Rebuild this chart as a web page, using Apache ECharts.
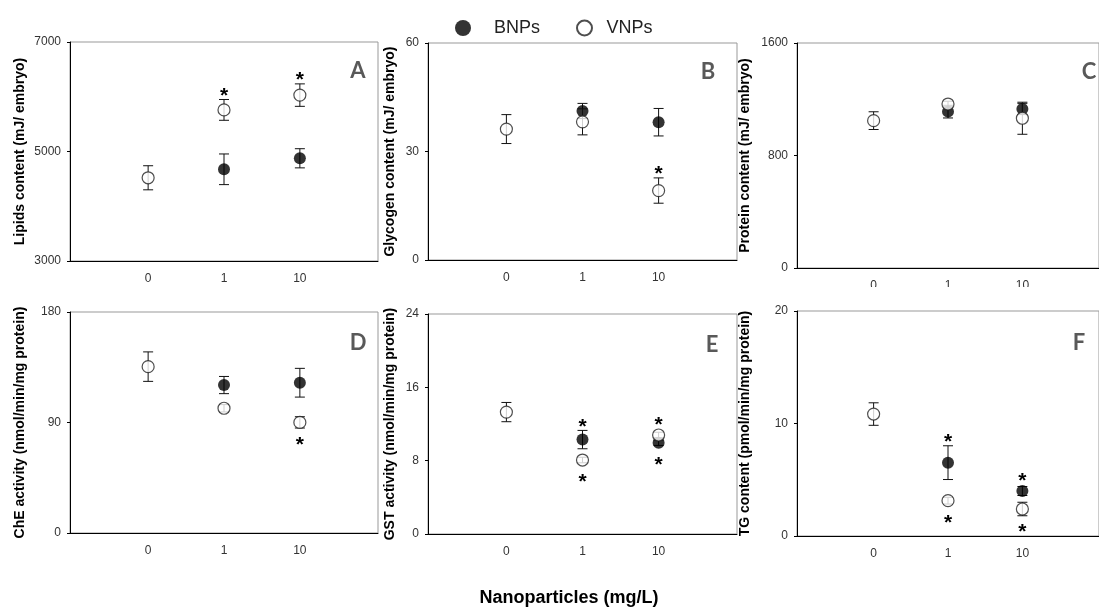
<!DOCTYPE html>
<html><head><meta charset="utf-8">
<script src="https://cdn.jsdelivr.net/npm/echarts@6/dist/echarts.min.js"></script>
<style>html,body{margin:0;padding:0;background:#fff}#c{width:1099px;height:609px}</style>
</head><body><div id="c"></div>
<script>
// ---------- data ----------
const categories = ['0', '1', '10'];
const seriesNames = ['BNPs', 'VNPs'];

const lipidsBNP = [null, 4675, 4876];
const lipidsBNPsd = [0, 280, 175];
const lipidsVNP = [4520, 5760, 6030];
const lipidsVNPsd = [220, 190, 205];
const lipidsBNPsig = [0, 0, 0];
const lipidsVNPsig = [0, 1, 1];
const lipidsTicks = [3000, 5000, 7000];

const glycogenBNP = [null, 41.2, 38.1];
const glycogenBNPsd = [0, 2.1, 3.8];
const glycogenVNP = [36.2, 38.2, 19.2];
const glycogenVNPsd = [4, 3.6, 3.5];
const glycogenBNPsig = [0, 0, 0];
const glycogenVNPsig = [0, 0, 1];
const glycogenTicks = [0, 30, 60];

const proteinBNP = [null, 1112, 1131];
const proteinBNPsd = [0, 45, 40];
const proteinVNP = [1048, 1166, 1065];
const proteinVNPsd = [63, 20, 114];
const proteinBNPsig = [0, 0, 0];
const proteinVNPsig = [0, 0, 0];
const proteinTicks = [0, 800, 1600];

const cheBNP = [null, 120.5, 122.4];
const cheBNPsd = [0, 7, 11.7];
const cheVNP = [135.5, 101.6, 90.1];
const cheVNPsd = [12, 3, 4.6];
const cheBNPsig = [0, 0, 0];
const cheVNPsig = [0, 0, -1];
const cheTicks = [0, 90, 180];

const gstBNP = [null, 10.3, 9.96];
const gstBNPsd = [0, 1, 0.3];
const gstVNP = [13.3, 8.07, 10.8];
const gstVNPsd = [1.05, 0.3, 0.3];
const gstBNPsig = [0, 1, -1];
const gstVNPsig = [0, -1, 1];
const gstTicks = [0, 8, 16, 24];

const tgBNP = [null, 6.52, 4.0];
const tgBNPsd = [0, 1.5, 0.4];
const tgVNP = [10.84, 3.14, 2.4];
const tgVNPsd = [1, 0.3, 0.6];
const tgBNPsig = [0, 1, 1];
const tgVNPsig = [0, -1, -1];
const tgTicks = [0, 10, 20];

const yNames = [
  'Lipids content (mJ/ embryo)',
  'Glycogen content (mJ/ embryo)',
  'Protein content (mJ/ embryo)',
  'ChE activity (nmol/min/mg protein)',
  'GST activity (nmol/min/mg protein)',
  'TG content (pmol/min/mg protein)'
];
const panelLetters = ['A', 'B', 'C', 'D', 'E', 'F'];
const xTitle = 'Nanoparticles (mg/L)';

// ---------- layout ----------
const panels = [
  {bnp: lipidsBNP, bnpSd: lipidsBNPsd, vnp: lipidsVNP, vnpSd: lipidsVNPsd, bs: lipidsBNPsig, vs: lipidsVNPsig, ticks: lipidsTicks,
   grid: {left: 70, top: 42, width: 308, height: 219}, gap: 43, letter: [358, 71]},
  {bnp: glycogenBNP, bnpSd: glycogenBNPsd, vnp: glycogenVNP, vnpSd: glycogenVNPsd, bs: glycogenBNPsig, vs: glycogenVNPsig, ticks: glycogenTicks,
   grid: {left: 428, top: 43, width: 309, height: 217}, gap: 31, letter: [708, 72]},
  {bnp: proteinBNP, bnpSd: proteinBNPsd, vnp: proteinVNP, vnpSd: proteinVNPsd, bs: proteinBNPsig, vs: proteinVNPsig, ticks: proteinTicks,
   grid: {left: 797, top: 43, width: 316, height: 225}, gap: 45, letter: [1089, 72]},
  {bnp: cheBNP, bnpSd: cheBNPsd, vnp: cheVNP, vnpSd: cheVNPsd, bs: cheBNPsig, vs: cheVNPsig, ticks: cheTicks,
   grid: {left: 70, top: 312, width: 308, height: 221}, gap: 43, letter: [358, 343]},
  {bnp: gstBNP, bnpSd: gstBNPsd, vnp: gstVNP, vnpSd: gstVNPsd, bs: gstBNPsig, vs: gstVNPsig, ticks: gstTicks,
   grid: {left: 428, top: 314, width: 309, height: 220}, gap: 31, letter: [712, 345]},
  {bnp: tgBNP, bnpSd: tgBNPsd, vnp: tgVNP, vnpSd: tgVNPsd, bs: tgBNPsig, vs: tgVNPsig, ticks: tgTicks,
   grid: {left: 797, top: 311, width: 316, height: 225}, gap: 45, letter: [1079, 343]}
];

const FONT = '"Liberation Sans", Arial, sans-serif';

function errRender(params, api) {
  const x = api.value(0), y = api.value(1), sd = api.value(2), sig = api.value(3);
  const c = api.coord([x, y]);
  const hi = api.coord([x, y + sd]);
  const lo = api.coord([x, y - sd]);
  const cap = 5;
  const ls = {stroke: '#111', lineWidth: 1};
  const children = [];
  if (sd > 0) {
    children.push({type: 'line', shape: {x1: c[0], y1: hi[1], x2: c[0], y2: lo[1]}, style: ls});
    children.push({type: 'line', shape: {x1: c[0] - cap, y1: hi[1], x2: c[0] + cap, y2: hi[1]}, style: ls});
    children.push({type: 'line', shape: {x1: c[0] - cap, y1: lo[1], x2: c[0] + cap, y2: lo[1]}, style: ls});
  }
  if (sig === 1) {
    const yy = Math.min(hi[1], c[1] - 6) - 8 + 4.5;
    children.push({type: 'text', style: {text: '*', x: c[0], y: yy, align: 'center', verticalAlign: 'middle',
      font: 'bold 21px ' + FONT, fill: '#000'}});
  } else if (sig === -1) {
    const yy = Math.max(lo[1], c[1] + 6) + 12 + 4.5;
    children.push({type: 'text', style: {text: '*', x: c[0], y: yy, align: 'center', verticalAlign: 'middle',
      font: 'bold 21px ' + FONT, fill: '#000'}});
  }
  return {type: 'group', children};
}

function rows(vals, sds, sigs) {
  const out = [];
  vals.forEach((v, i) => { if (v !== null) out.push([i, v, sds[i], sigs[i]]); });
  return out;
}
function pts(vals) {
  const out = [];
  vals.forEach((v, i) => { if (v !== null) out.push([i, v]); });
  return out;
}

const grids = [], xAxes = [], yAxes = [], series = [], graphics = [];
panels.forEach((p, i) => {
  grids.push(Object.assign({show: true, borderColor: '#999', borderWidth: 1, backgroundColor: 'transparent'}, p.grid));
  xAxes.push({
    type: 'value', gridIndex: i, min: -1.03, max: 3.03,
    axisLine: {show: true, onZero: false, lineStyle: {color: '#000', width: 1}},
    axisTick: {show: false},
    splitLine: {show: false},
    axisLabel: {customValues: [0, 1, 2], formatter: v => categories[v], margin: 12, fontSize: 12, color: '#333', fontFamily: FONT}
  });
  yAxes.push({
    type: 'value', gridIndex: i, min: p.ticks[0], max: p.ticks[p.ticks.length - 1],
    axisLine: {show: true, onZero: false, lineStyle: {color: '#000', width: 1}},
    axisTick: {show: true, customValues: p.ticks, length: 3, lineStyle: {color: '#000'}},
    splitLine: {show: false},
    axisLabel: {customValues: p.ticks, formatter: v => String(v), margin: 9, fontSize: 12, color: '#333', fontFamily: FONT},
    name: yNames[i], nameLocation: 'middle', nameRotate: 90, nameGap: p.gap,
    nameTextStyle: {fontWeight: 'bold', fontSize: 14, color: '#000', fontFamily: FONT}
  });
  series.push({type: 'custom', xAxisIndex: i, yAxisIndex: i, renderItem: errRender, data: rows(p.bnp, p.bnpSd, p.bs), z: 2, silent: true});
  series.push({type: 'scatter', name: seriesNames[0], xAxisIndex: i, yAxisIndex: i, data: pts(p.bnp), symbol: 'circle', symbolSize: 12,
    itemStyle: {color: '#000'}, z: 3, silent: true});
  series.push({type: 'custom', xAxisIndex: i, yAxisIndex: i, renderItem: errRender, data: rows(p.vnp, p.vnpSd, p.vs), z: 4, silent: true});
  series.push({type: 'scatter', name: seriesNames[1], xAxisIndex: i, yAxisIndex: i, data: pts(p.vnp), symbol: 'circle', symbolSize: 12,
    itemStyle: {color: '#fff', borderColor: '#222', borderWidth: 1.2}, z: 5, silent: true});
  graphics.push({type: 'text', x: p.letter[0], y: p.letter[1], z: 50,
    style: {text: panelLetters[i], x: 0, y: 0, align: 'center', verticalAlign: 'middle', font: 'bold 22px Lato, "Open Sans", sans-serif', fill: '#595959'}});
});

// mask clipping panel C's tick labels (as in the source figure)
graphics.push({type: 'rect', shape: {x: 800, y: 287, width: 299, height: 12}, style: {fill: '#fff'}, z: 100});
graphics.push({type: 'text', x: 569, y: 598, z: 50,
  style: {text: xTitle, align: 'center', verticalAlign: 'middle', font: 'bold 18px ' + FONT, fill: '#000'}});

const chart = echarts.init(document.getElementById('c'), null, {renderer: 'canvas'});
chart.setOption({
  animation: false,
  backgroundColor: '#fff',
  legend: [
    {data: [seriesNames[0]], left: 450, top: 14, itemWidth: 52, itemHeight: 16, icon: 'circle', selectedMode: false,
     textStyle: {fontSize: 18, color: '#222', fontFamily: FONT}},
    {data: [seriesNames[1]], left: 571, top: 14, itemWidth: 34, itemHeight: 15, icon: 'circle', selectedMode: false,
     textStyle: {fontSize: 18, color: '#222', fontFamily: FONT}}
  ],
  grid: grids, xAxis: xAxes, yAxis: yAxes, series, graphic: graphics
});
</script></body></html>
